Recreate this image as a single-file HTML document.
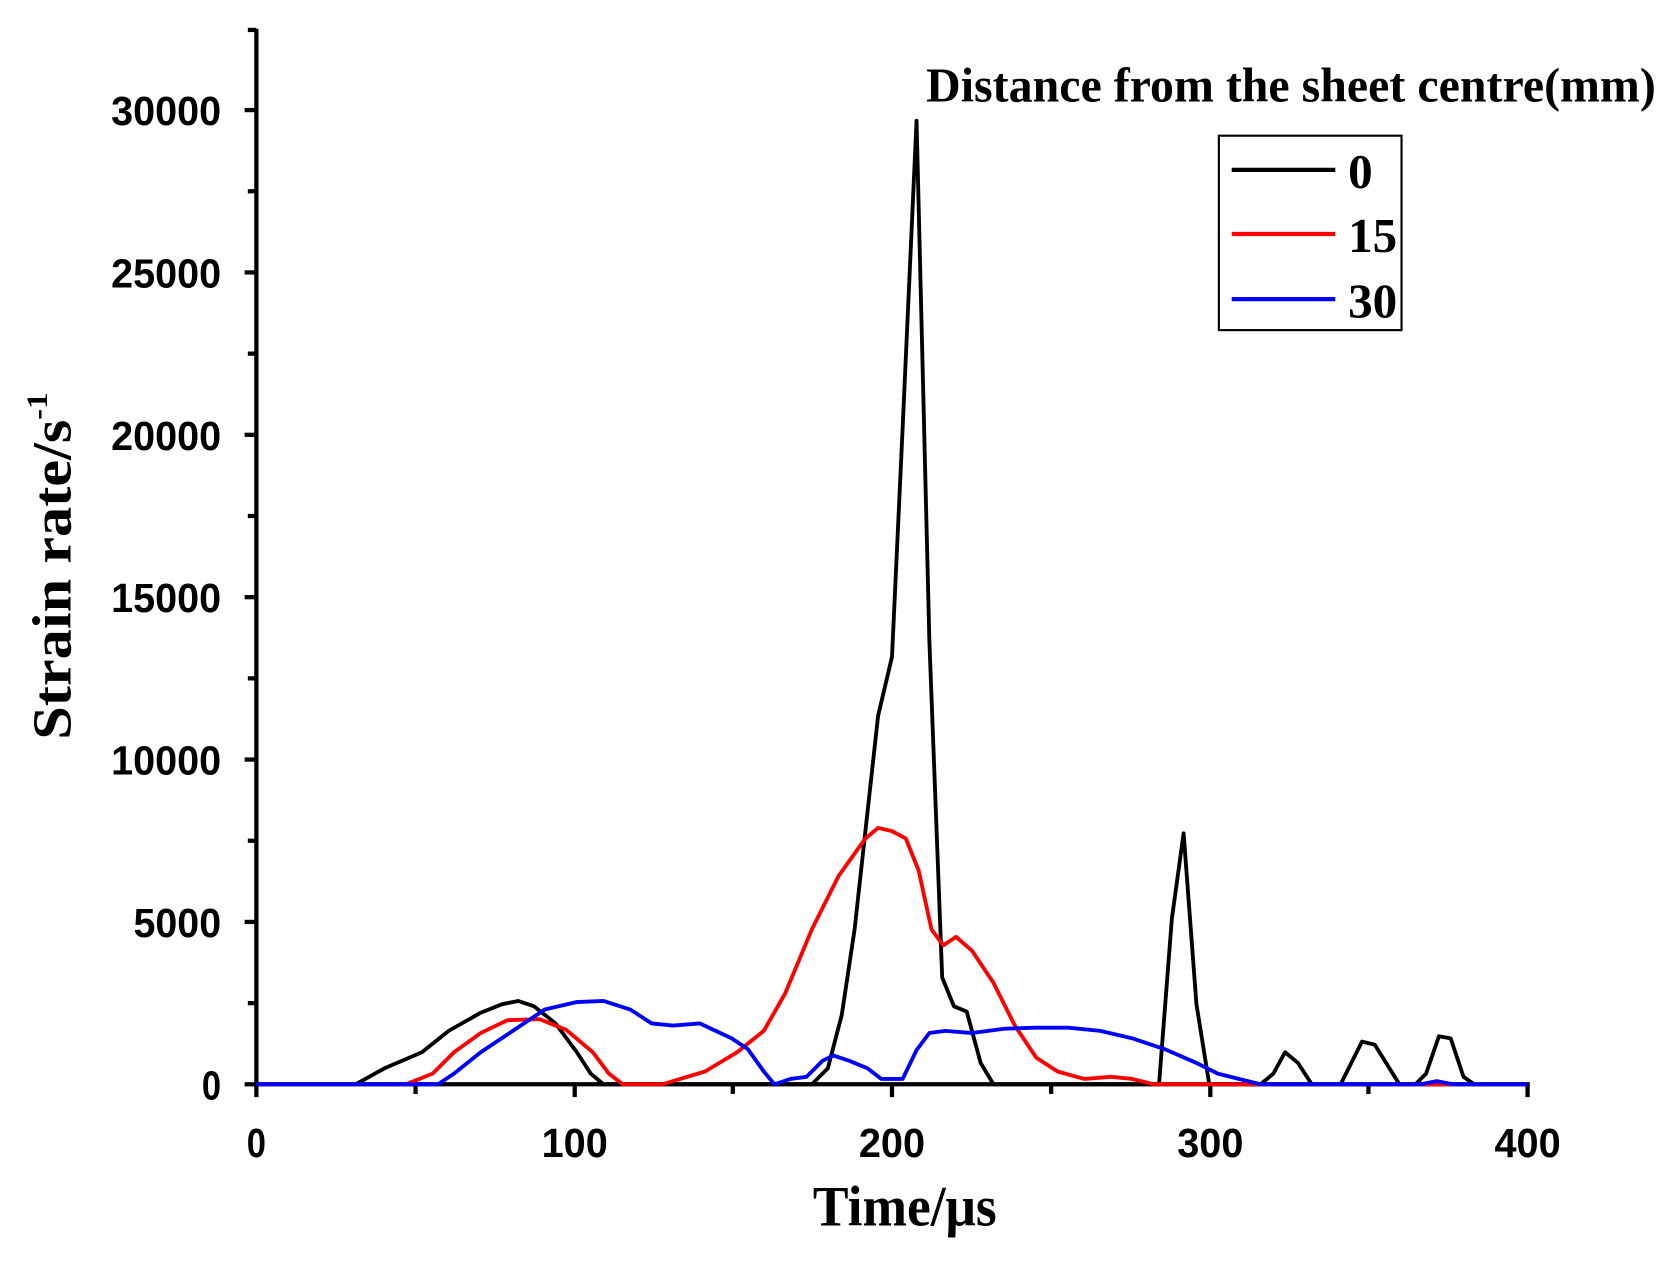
<!DOCTYPE html>
<html><head><meta charset="utf-8"><style>html,body{margin:0;padding:0;background:#fff}svg{display:block}</style></head><body>
<svg width="1675" height="1267" viewBox="0 0 1568 1186" xmlns="http://www.w3.org/2000/svg">
<g font-family="Liberation Sans, sans-serif" font-weight="bold" font-size="38" fill="#000">
<text x="207" y="117" text-anchor="end" textLength="103" lengthAdjust="spacingAndGlyphs">30000</text>
<text x="207" y="269" text-anchor="end" textLength="103" lengthAdjust="spacingAndGlyphs">25000</text>
<text x="207" y="421" text-anchor="end" textLength="103" lengthAdjust="spacingAndGlyphs">20000</text>
<text x="207" y="573" text-anchor="end" textLength="103" lengthAdjust="spacingAndGlyphs">15000</text>
<text x="207" y="725" text-anchor="end" textLength="103" lengthAdjust="spacingAndGlyphs">10000</text>
<text x="207" y="877" text-anchor="end" textLength="82" lengthAdjust="spacingAndGlyphs">5000</text>
<text x="207" y="1029" text-anchor="end" textLength="18" lengthAdjust="spacingAndGlyphs">0</text>
<text x="240" y="1083" text-anchor="middle" textLength="18" lengthAdjust="spacingAndGlyphs">0</text>
<text x="538" y="1083" text-anchor="middle" textLength="62" lengthAdjust="spacingAndGlyphs">100</text>
<text x="835" y="1083" text-anchor="middle" textLength="62" lengthAdjust="spacingAndGlyphs">200</text>
<text x="1133" y="1083" text-anchor="middle" textLength="62" lengthAdjust="spacingAndGlyphs">300</text>
<text x="1430" y="1083" text-anchor="middle" textLength="62" lengthAdjust="spacingAndGlyphs">400</text>
</g>
<g font-family="Liberation Serif, serif" font-weight="bold" fill="#000">
<text x="847" y="1147" font-size="54" text-anchor="middle" textLength="172" lengthAdjust="spacingAndGlyphs">Time/μs</text>
<text transform="translate(66,530) rotate(-90)" font-size="52" text-anchor="middle" textLength="325" lengthAdjust="spacingAndGlyphs">Strain rate/s<tspan font-size="28" dy="-22">-1</tspan></text>
<text x="867" y="95" font-size="46" textLength="683" lengthAdjust="spacingAndGlyphs">Distance from the sheet centre(mm)</text>
<text x="1262" y="176" font-size="46">0</text>
<text x="1262" y="236" font-size="46">15</text>
<text x="1262" y="297" font-size="46">30</text>
</g>
<rect x="1141" y="127" width="171" height="182" fill="none" stroke="#000" stroke-width="2"/>
<g stroke-width="4" fill="none">
<line x1="1153" y1="159" x2="1250" y2="159" stroke="#000"/>
<line x1="1153" y1="219" x2="1250" y2="219" stroke="#f00"/>
<line x1="1153" y1="280" x2="1250" y2="280" stroke="#00f"/>
</g>
<g stroke="#000" stroke-width="4">
<line x1="240" y1="27" x2="240" y2="1017"/>
<line x1="238" y1="1015" x2="1432" y2="1015"/>
<line x1="229" y1="1015" x2="240" y2="1015"/><line x1="232" y1="939" x2="240" y2="939"/>
<line x1="229" y1="863" x2="240" y2="863"/><line x1="232" y1="787" x2="240" y2="787"/>
<line x1="229" y1="711" x2="240" y2="711"/><line x1="232" y1="635" x2="240" y2="635"/>
<line x1="229" y1="559" x2="240" y2="559"/><line x1="232" y1="483" x2="240" y2="483"/>
<line x1="229" y1="407" x2="240" y2="407"/><line x1="232" y1="331" x2="240" y2="331"/>
<line x1="229" y1="255" x2="240" y2="255"/><line x1="232" y1="179" x2="240" y2="179"/>
<line x1="229" y1="103" x2="240" y2="103"/><line x1="232" y1="28" x2="240" y2="28"/>
<line x1="240" y1="1015" x2="240" y2="1027"/><line x1="389" y1="1015" x2="389" y2="1024"/>
<line x1="538" y1="1015" x2="538" y2="1027"/><line x1="686" y1="1015" x2="686" y2="1024"/>
<line x1="835" y1="1015" x2="835" y2="1027"/><line x1="984" y1="1015" x2="984" y2="1024"/>
<line x1="1133" y1="1015" x2="1133" y2="1027"/><line x1="1281" y1="1015" x2="1281" y2="1024"/>
<line x1="1430" y1="1015" x2="1430" y2="1027"/>
</g>
<g fill="none" stroke-width="3.6" stroke-linejoin="round">
<polyline stroke="#000" points="240,1015 333,1015 360,1000 395,985 420,965 450,948 470,940 485,937 500,942 520,958 540,985 553,1005 565,1015 760,1015 775,1000 788,950 800,870 822,670 835,615 845,400 858,113 870,600 882,915 893,942 905,947 918,995 930,1015 1085,1015 1097,860 1108,780 1120,940 1132,1015 1180,1015 1192,1005 1203,985 1215,995 1228,1015 1255,1015 1275,975 1287,978 1310,1015 1325,1015 1335,1005 1347,970 1358,972 1370,1008 1380,1015 1430,1015"/>
<polyline stroke="#f00" points="240,1015 380,1015 405,1005 425,985 450,967 475,955 505,954 530,964 555,985 570,1005 583,1015 620,1015 660,1003 690,985 715,965 735,930 760,870 785,820 810,785 822,775 835,778 848,785 860,815 872,870 883,885 895,877 910,890 930,920 950,960 970,990 990,1003 1015,1010 1040,1008 1060,1010 1080,1015 1430,1015"/>
<polyline stroke="#00f" points="240,1015 410,1015 425,1005 450,985 480,965 510,945 540,938 565,937 590,945 610,958 630,960 655,958 670,965 685,972 700,982 715,1003 725,1015 740,1010 755,1008 770,993 780,988 795,993 812,1000 825,1010 845,1010 858,983 870,967 885,965 910,967 940,963 970,962 1000,962 1030,965 1060,972 1090,982 1120,995 1140,1005 1160,1010 1180,1015 1330,1015 1345,1012 1360,1015 1430,1015"/>
</g>
</svg>
</body></html>
